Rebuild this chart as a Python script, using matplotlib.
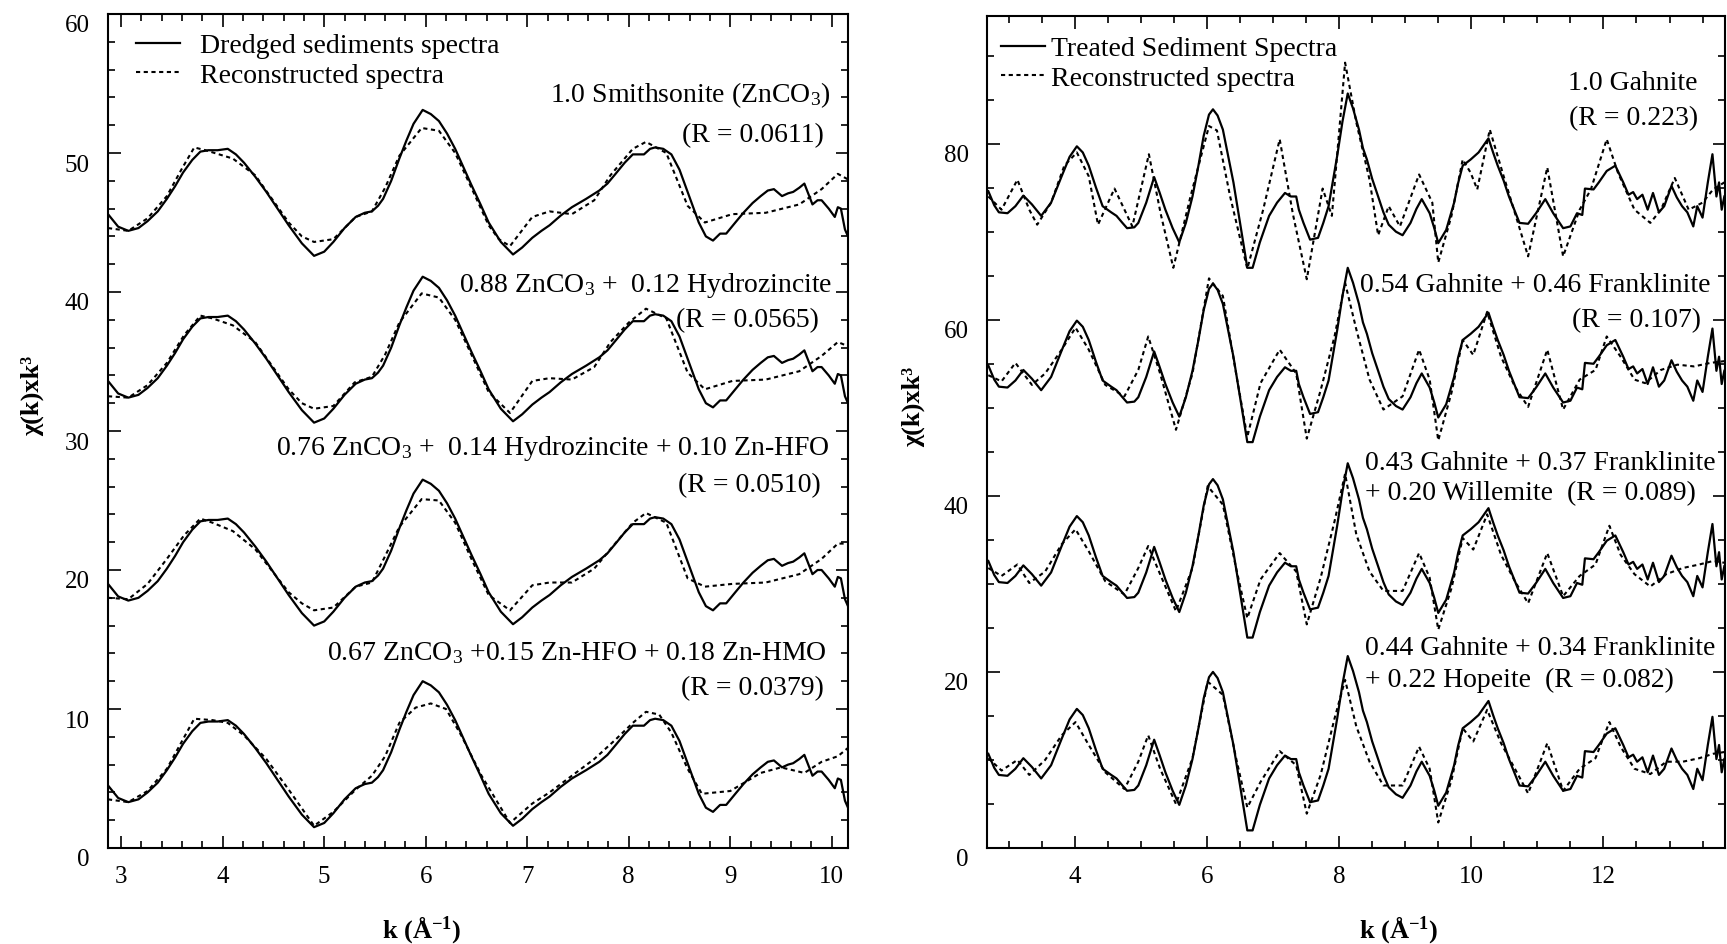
import matplotlib
matplotlib.use("Agg")
import matplotlib.pyplot as plt
from matplotlib.ticker import MultipleLocator
from matplotlib.transforms import ScaledTranslation
from matplotlib.lines import Line2D

plt.rcParams['font.family'] = ['Liberation Serif', 'DejaVu Serif']
plt.rcParams['mathtext.fontset'] = 'custom'
plt.rcParams['mathtext.rm'] = 'Liberation Serif'
plt.rcParams['mathtext.it'] = 'Liberation Serif:italic'
plt.rcParams['mathtext.bf'] = 'Liberation Serif:bold'

# ======================= DATA =======================
# ---- Left panel: dredged sediments (experimental trace, top copy) ----
dredged_k = [2.87, 2.97, 3.07, 3.17, 3.26, 3.36, 3.45, 3.53, 3.61, 3.70, 3.78, 3.86, 3.95,
             4.05, 4.13, 4.21, 4.32, 4.43, 4.54, 4.65, 4.78, 4.90, 5.00, 5.09, 5.20, 5.31,
             5.40, 5.47, 5.53, 5.58, 5.66, 5.74, 5.81, 5.88, 5.97, 6.05, 6.13, 6.21, 6.29,
             6.37, 6.45, 6.54, 6.62, 6.74, 6.86, 6.95, 7.05, 7.14, 7.22, 7.33, 7.44, 7.58,
             7.71, 7.79, 7.87, 7.96, 8.04, 8.10, 8.15, 8.21, 8.26, 8.34, 8.42, 8.50, 8.58,
             8.64, 8.69, 8.76, 8.83, 8.90, 8.96, 9.05, 9.13, 9.22, 9.30, 9.37, 9.43, 9.51,
             9.57, 9.62, 9.68, 9.73, 9.81, 9.86, 9.90, 9.97, 10.03, 10.06, 10.09, 10.13, 10.16]
dredged_chi = [45.6, 44.7, 44.4, 44.6, 45.1, 45.8, 46.7, 47.6, 48.6, 49.5, 50.1, 50.2, 50.2,
               50.3, 49.9, 49.3, 48.3, 47.2, 46.0, 44.8, 43.5, 42.6, 42.9, 43.6, 44.6, 45.4,
               45.7, 45.8, 46.2, 46.7, 48.0, 49.6, 50.9, 52.1, 53.1, 52.8, 52.3, 51.4, 50.3,
               49.0, 47.7, 46.3, 45.0, 43.6, 42.7, 43.2, 43.9, 44.4, 44.8, 45.5, 46.1, 46.7,
               47.3, 47.8, 48.5, 49.3, 49.9, 49.9, 49.9, 50.3, 50.4, 50.3, 49.9, 48.8, 47.2,
               46.0, 45.0, 44.0, 43.7, 44.2, 44.2, 45.0, 45.7, 46.4, 46.9, 47.3, 47.4, 46.9,
               47.1, 47.2, 47.5, 47.8, 46.3, 46.6, 46.6, 46.0, 45.4, 46.1, 46.0, 44.5, 44.0]
dredged_offsets = [0.0, -12.0, -26.6, -41.1]

# reconstructed spectra (left panel), top to bottom
dredged_fit1_k = [2.87, 3.07, 3.26, 3.45, 3.60, 3.72, 3.83, 4.10, 4.32, 4.65, 4.78, 4.90, 5.09,
                  5.31, 5.47, 5.60, 5.74, 5.96, 6.13, 6.29, 6.45, 6.62, 6.72, 6.83, 7.05, 7.22,
                  7.44, 7.66, 7.82, 8.04, 8.17, 8.37, 8.58, 8.75, 9.02, 9.35, 9.68, 9.90, 10.06, 10.16]
dredged_fit1_chi = [44.6, 44.4, 45.3, 46.9, 48.9, 50.4, 50.2, 49.6, 48.4, 45.0, 44.0, 43.6, 43.8,
                    45.4, 45.8, 47.5, 49.8, 51.8, 51.6, 50.0, 47.5, 44.8, 43.8, 43.3, 45.4, 45.8,
                    45.6, 46.6, 48.4, 50.3, 50.8, 50.0, 46.2, 45.0, 45.6, 45.7, 46.3, 47.4, 48.5, 48.1]
dredged_fit2_k = [2.87, 3.07, 3.26, 3.45, 3.62, 3.78, 3.90, 4.10, 4.32, 4.65, 4.78, 4.90, 5.09,
                  5.30, 5.47, 5.60, 5.74, 5.96, 6.13, 6.29, 6.45, 6.62, 6.83, 7.05, 7.22, 7.44,
                  7.66, 7.82, 8.00, 8.17, 8.37, 8.58, 8.75, 9.02, 9.35, 9.68, 9.90, 10.06, 10.16]
dredged_fit2_chi = [32.5, 32.4, 33.3, 34.9, 36.9, 38.3, 38.1, 37.6, 36.4, 33.0, 32.0, 31.6, 31.8,
                    33.5, 33.9, 35.5, 37.8, 39.9, 39.6, 38.0, 35.5, 32.8, 31.3, 33.6, 33.8, 33.7,
                    34.6, 36.4, 37.8, 38.8, 38.1, 34.2, 33.0, 33.6, 33.7, 34.3, 35.4, 36.4, 36.1]
dredged_fit3_k = [2.87, 3.07, 3.26, 3.45, 3.62, 3.78, 3.90, 4.10, 4.32, 4.65, 4.78, 4.90, 5.09,
                  5.31, 5.47, 5.60, 5.74, 5.96, 6.13, 6.29, 6.45, 6.62, 6.83, 7.05, 7.22, 7.44,
                  7.66, 7.82, 8.04, 8.17, 8.37, 8.58, 8.75, 9.02, 9.35, 9.68, 9.90, 10.06, 10.16]
dredged_fit3_chi = [18.0, 17.9, 19.0, 20.8, 22.5, 23.7, 23.4, 22.8, 21.5, 18.4, 17.6, 17.1, 17.3,
                    18.8, 19.1, 21.0, 23.1, 25.1, 25.0, 23.4, 20.8, 18.2, 17.1, 18.9, 19.1, 19.1,
                    20.1, 21.5, 23.4, 24.1, 23.4, 19.4, 18.8, 19.0, 19.1, 19.7, 20.8, 21.9, 21.9]
dredged_fit4_k = [2.87, 3.07, 3.26, 3.45, 3.72, 3.90, 4.05, 4.21, 4.43, 4.65, 4.90, 5.09, 5.31,
                  5.47, 5.60, 5.74, 5.90, 6.05, 6.20, 6.35, 6.55, 6.83, 7.05, 7.22, 7.44, 7.66,
                  7.87, 8.04, 8.17, 8.30, 8.42, 8.58, 8.72, 9.00, 9.30, 9.50, 9.73, 9.90, 10.06, 10.16]
dredged_fit4_chi = [3.5, 3.3, 4.1, 5.7, 9.3, 9.2, 9.0, 8.1, 6.4, 4.2, 1.6, 2.6, 4.2,
                    5.2, 6.6, 9.0, 10.1, 10.4, 10.0, 8.1, 5.2, 1.8, 3.2, 4.0, 5.2, 6.4,
                    7.8, 9.0, 9.8, 9.6, 8.3, 5.7, 3.9, 4.1, 5.4, 5.8, 5.4, 6.2, 6.6, 7.2]

left_fit_texts = ["1.0 Smithsonite (ZnCO$_3$)",
                  "0.88 ZnCO$_3$ +  0.12 Hydrozincite",
                  "0.76 ZnCO$_3$ +  0.14 Hydrozincite + 0.10 Zn-HFO",
                  "0.67 ZnCO$_3$ +0.15 Zn-HFO + 0.18 Zn-HMO"]
left_r_texts = ["(R = 0.0611)", "(R = 0.0565)", "(R = 0.0510)", "(R = 0.0379)"]

# ---- Right panel: treated sediment (experimental trace, top copy) ----
treated_k = [2.69, 2.78, 2.85, 2.98, 3.10, 3.22, 3.35, 3.49, 3.64, 3.80, 3.92, 4.03, 4.12,
             4.21, 4.32, 4.42, 4.55, 4.63, 4.72, 4.79, 4.90, 4.96, 5.08, 5.20, 5.28, 5.37,
             5.48, 5.58, 5.68, 5.78, 5.87, 5.95, 6.03, 6.09, 6.16, 6.24, 6.32, 6.40, 6.50,
             6.61, 6.69, 6.80, 6.94, 7.06, 7.18, 7.27, 7.35, 7.39, 7.46, 7.56, 7.68, 7.76,
             7.84, 7.97, 8.05, 8.13, 8.21, 8.30, 8.36, 8.42, 8.50, 8.59, 8.67, 8.75, 8.86,
             8.96, 9.08, 9.17, 9.25, 9.37, 9.44, 9.50, 9.62, 9.74, 9.80, 9.87, 9.99, 10.11,
             10.26, 10.33, 10.40, 10.49, 10.57, 10.65, 10.73, 10.86, 10.98, 11.12, 11.24,
             11.39, 11.50, 11.60, 11.68, 11.72, 11.85, 11.93, 12.05, 12.18, 12.30, 12.38,
             12.45, 12.51, 12.59, 12.67, 12.75, 12.84, 12.92, 13.03, 13.11, 13.19, 13.27,
             13.36, 13.42, 13.50, 13.58, 13.65, 13.71, 13.75, 13.79, 13.83]
treated_chi = [74.6, 73.0, 72.2, 72.1, 72.9, 74.1, 73.1, 71.8, 73.3, 76.3, 78.5, 79.7, 79.0,
               77.5, 75.0, 72.9, 72.2, 71.8, 71.0, 70.4, 70.5, 71.0, 73.3, 76.2, 74.5, 72.5,
               70.4, 68.8, 71.0, 74.0, 77.5, 80.9, 83.3, 83.9, 83.2, 81.6, 78.6, 75.6, 71.0,
               65.9, 65.9, 68.8, 71.8, 73.3, 74.4, 74.0, 74.0, 72.5, 71.0, 69.1, 69.3, 71.0,
               72.9, 78.6, 82.5, 85.7, 84.0, 81.6, 79.5, 78.2, 76.0, 74.0, 72.2, 70.8, 70.0,
               69.6, 71.0, 72.6, 73.7, 72.1, 70.4, 68.7, 70.2, 73.3, 75.5, 77.5, 78.2, 79.0,
               80.6, 79.0, 77.5, 75.8, 74.0, 72.5, 71.0, 70.9, 72.1, 73.7, 72.1,
               70.4, 70.6, 72.1, 71.9, 74.9, 74.8, 75.6, 76.9, 77.5, 75.6, 74.2,
               74.5, 73.7, 74.2, 72.5, 74.4, 72.2, 72.9, 75.2, 73.9, 72.9, 72.2,
               70.6, 72.9, 71.6, 75.6, 78.8, 74.0, 75.6, 72.5, 74.0]
treated_offsets = [0.0, -19.8, -42.0, -63.9]

treated_fit1_k = [2.69, 2.89, 3.13, 3.31, 3.43, 3.64, 3.84, 4.03, 4.21, 4.35, 4.60, 4.87, 5.12,
                  5.30, 5.49, 5.75, 6.03, 6.15, 6.35, 6.61, 6.85, 7.10, 7.30, 7.51, 7.75, 7.89,
                  8.09, 8.26, 8.46, 8.59, 8.75, 8.92, 9.21, 9.41, 9.50, 9.70, 9.87, 9.99, 10.09,
                  10.28, 10.49, 10.69, 10.86, 11.15, 11.39, 11.64, 11.81, 12.05, 12.22, 12.47,
                  12.71, 12.87, 13.08, 13.29, 13.50, 13.66, 13.83]
treated_fit1_chi = [74.0, 72.5, 75.9, 72.5, 70.8, 73.3, 77.5, 79.0, 76.3, 70.8, 74.9, 70.6, 78.8,
                    72.0, 65.9, 74.0, 82.0, 81.5, 74.0, 65.8, 72.5, 80.5, 72.0, 64.6, 74.9, 71.8,
                    89.2, 82.4, 75.9, 69.6, 72.9, 70.6, 76.5, 73.3, 66.5, 71.8, 78.2, 76.7, 74.8,
                    81.6, 76.3, 71.4, 67.2, 77.3, 67.2, 72.5, 74.8, 80.5, 76.7, 72.5,
                    71.0, 72.5, 76.1, 72.5, 73.3, 74.8, 75.6]
treated_fit2_k = [2.69, 2.89, 3.10, 3.35, 3.55, 3.80, 4.01, 4.21, 4.46, 4.75, 4.96, 5.11, 5.29,
                  5.53, 5.78, 6.03, 6.24, 6.44, 6.61, 6.81, 7.10, 7.35, 7.51, 7.72, 7.93, 8.09,
                  8.26, 8.46, 8.67, 8.96, 9.21, 9.37, 9.50, 9.70, 9.87, 10.03, 10.24, 10.45,
                  10.66, 10.86, 11.15, 11.39, 11.64, 11.88, 12.05, 12.26, 12.47, 12.63, 12.87,
                  13.12, 13.37, 13.62, 13.83]
treated_fit2_chi = [53.7, 53.0, 55.1, 52.6, 53.9, 56.6, 59.1, 56.6, 52.6, 51.3, 54.3, 58.1, 53.9,
                    47.5, 53.9, 64.7, 62.7, 53.9, 46.7, 52.8, 56.6, 53.9, 46.5, 52.0, 58.1, 64.2,
                    58.9, 53.2, 49.8, 51.3, 56.6, 53.2, 46.3, 51.7, 57.7, 56.0, 60.9, 55.8,
                    52.4, 50.1, 56.6, 49.8, 53.2, 54.3, 58.1, 55.8, 53.2, 52.8, 54.3,
                    54.9, 54.7, 55.1, 55.3]
treated_fit3_k = [2.69, 2.89, 3.13, 3.31, 3.55, 3.80, 4.01, 4.21, 4.46, 4.75, 4.96, 5.11, 5.29,
                  5.53, 5.78, 6.01, 6.24, 6.44, 6.61, 6.81, 7.10, 7.35, 7.51, 7.72, 7.93, 8.09,
                  8.26, 8.46, 8.67, 8.96, 9.21, 9.37, 9.50, 9.70, 9.87, 10.03, 10.24, 10.45,
                  10.66, 10.86, 11.15, 11.39, 11.64, 11.88, 12.09, 12.26, 12.47, 12.71, 12.95,
                  13.20, 13.45, 13.66, 13.83]
treated_fit3_chi = [31.8, 30.9, 32.2, 30.1, 31.4, 34.5, 36.2, 33.7, 30.3, 28.8, 31.8, 34.3, 31.1,
                    26.9, 31.8, 41.1, 39.0, 31.8, 26.1, 30.5, 33.5, 31.4, 25.4, 30.7, 37.1, 42.5,
                    35.6, 31.4, 29.2, 29.2, 33.5, 30.7, 24.8, 29.5, 35.2, 33.9, 37.9, 33.3,
                    30.3, 27.8, 33.5, 28.6, 30.9, 32.2, 36.6, 33.3, 31.1, 29.7, 31.1,
                    31.8, 32.2, 32.6, 32.4]
treated_fit4_k = [2.69, 2.89, 3.13, 3.31, 3.55, 3.80, 4.01, 4.21, 4.46, 4.75, 4.96, 5.11, 5.29,
                  5.53, 5.78, 6.01, 6.24, 6.44, 6.61, 6.81, 7.10, 7.35, 7.51, 7.72, 7.93, 8.09,
                  8.26, 8.46, 8.67, 8.96, 9.21, 9.37, 9.50, 9.70, 9.87, 10.03, 10.24, 10.45,
                  10.66, 10.86, 11.15, 11.39, 11.64, 11.88, 12.09, 12.26, 12.47, 12.71, 12.95,
                  13.20, 13.45, 13.66, 13.83]
treated_fit4_chi = [10.2, 8.8, 10.0, 8.3, 10.0, 12.8, 14.3, 11.7, 8.6, 6.7, 9.8, 12.8, 9.0,
                    5.0, 10.2, 18.9, 17.4, 10.2, 4.6, 7.5, 11.0, 9.4, 3.9, 8.3, 14.7, 19.1,
                    13.8, 9.8, 7.1, 7.1, 11.5, 9.0, 2.9, 7.7, 13.6, 12.1, 15.7, 11.9,
                    9.0, 6.2, 11.9, 6.5, 9.0, 10.2, 14.3, 11.5, 9.0, 8.4, 9.8,
                    9.8, 10.2, 10.7, 10.9]

right_fit_texts = ["1.0 Gahnite",
                   "0.54 Gahnite + 0.46 Franklinite",
                   "0.43 Gahnite + 0.37 Franklinite",
                   "0.44 Gahnite + 0.34 Franklinite"]
right_r_texts = ["(R = 0.223)", "(R = 0.107)",
                 "+ 0.20 Willemite  (R = 0.089)", "+ 0.22 Hopeite  (R = 0.082)"]

left_legend = ["Dredged sediments spectra", "Reconstructed spectra"]
right_legend = ["Treated Sediment Spectra", "Reconstructed spectra"]

# ======================= LAYOUT =======================
W, H = 1727, 945
LEFT_BOX = (108, 15, 848, 849)     # x0, ytop, x1, ybottom (pixels)
RIGHT_BOX = (987, 17, 1725, 849)

def axes_rect(box):
    x0, yt, x1, yb = box
    return [x0 / W, 1 - yb / H, (x1 - x0) / W, (yb - yt) / H]

def afrac(box, x, y):
    x0, yt, x1, yb = box
    return (x - x0) / (x1 - x0), (yb - y) / (yb - yt)

fig = plt.figure(figsize=(W / 100, H / 100), dpi=100)
axL = fig.add_axes(axes_rect(LEFT_BOX))
axR = fig.add_axes(axes_rect(RIGHT_BOX))

SOLID = dict(color='black', lw=1.6, ls='-')
DASH = dict(color='black', lw=1.5, ls=(0, (2.0, 1.7)))
TXT = 20

for ax in (axL, axR):
    ax.tick_params(which='both', direction='in', top=True, right=True,
                   labelsize=18, width=1.2)
    ax.tick_params(which='major', length=9)
    ax.tick_params(which='minor', length=5)
    ax.tick_params(axis='x', pad=12)
    ax.tick_params(axis='y', pad=13)
    for s in ax.spines.values():
        s.set_linewidth(1.5)

# ---- left panel ----
for off in dredged_offsets:
    axL.plot(dredged_k, [c + off for c in dredged_chi], **SOLID)
for kk, cc in [(dredged_fit1_k, dredged_fit1_chi), (dredged_fit2_k, dredged_fit2_chi),
               (dredged_fit3_k, dredged_fit3_chi), (dredged_fit4_k, dredged_fit4_chi)]:
    axL.plot(kk, cc, **DASH)
axL.set_xlim(2.87, 10.16)
axL.set_ylim(0, 60)
axL.xaxis.set_major_locator(MultipleLocator(1))
axL.xaxis.set_minor_locator(MultipleLocator(0.2))
axL.yaxis.set_major_locator(MultipleLocator(10))
axL.yaxis.set_minor_locator(MultipleLocator(2))

# ---- right panel ----
for off in treated_offsets:
    axR.plot(treated_k, [c + off for c in treated_chi], **SOLID)
for kk, cc in [(treated_fit1_k, treated_fit1_chi), (treated_fit2_k, treated_fit2_chi),
               (treated_fit3_k, treated_fit3_chi), (treated_fit4_k, treated_fit4_chi)]:
    axR.plot(kk, cc, **DASH)
axR.set_xlim(2.67, 13.84)
axR.set_ylim(0, 94.5)
axR.xaxis.set_major_locator(MultipleLocator(2))
axR.xaxis.set_minor_locator(MultipleLocator(0.5))
axR.yaxis.set_major_locator(MultipleLocator(20))
axR.yaxis.set_minor_locator(MultipleLocator(5))

# ---- legends ----
hL = [Line2D([], [], **SOLID), Line2D([], [], **DASH)]
lx, ly = afrac(LEFT_BOX, 136, 34)
axL.legend(hL, left_legend, loc='upper left', bbox_to_anchor=(lx, ly), frameon=False,
           fontsize=TXT, handlelength=1.6, handletextpad=0.7, borderpad=0,
           borderaxespad=0, labelspacing=0.15)
rx, ry = afrac(RIGHT_BOX, 1001, 37)
axR.legend(hL, right_legend, loc='upper left', bbox_to_anchor=(rx, ry), frameon=False,
           fontsize=TXT, handlelength=1.6, handletextpad=0.2, borderpad=0,
           borderaxespad=0, labelspacing=0.15)

# ---- annotations (pixel anchors: x, baseline y, alignment) ----
left_pos = [((830, 102), (824, 142)), ((832, 292), (819, 327)),
            ((830, 455), (821, 492)), ((827, 660), (824, 695))]
for (t1, t2), ((x1, y1), (x2, y2)) in zip(zip(left_fit_texts, left_r_texts), left_pos):
    axL.text(*afrac(LEFT_BOX, x1, y1), t1, transform=axL.transAxes, ha='right',
             va='baseline', fontsize=TXT)
    axL.text(*afrac(LEFT_BOX, x2, y2), t2, transform=axL.transAxes, ha='right',
             va='baseline', fontsize=TXT)

right_pos = [((1698, 90, 'right'), (1698, 125, 'right')),
             ((1711, 292, 'right'), (1701, 327, 'right')),
             ((1365, 470, 'left'), (1365, 500, 'left')),
             ((1365, 655, 'left'), (1365, 687, 'left'))]
for (t1, t2), ((x1, y1, a1), (x2, y2, a2)) in zip(zip(right_fit_texts, right_r_texts), right_pos):
    axR.text(*afrac(RIGHT_BOX, x1, y1), t1, transform=axR.transAxes, ha=a1,
             va='baseline', fontsize=TXT)
    axR.text(*afrac(RIGHT_BOX, x2, y2), t2, transform=axR.transAxes, ha=a2,
             va='baseline', fontsize=TXT)

# ---- axis labels ----
ylab = "χ(k)xk³"
xlab = r"k (Å$^{\mathbf{-1}}$)"
fig.text(32 / W, 1 - 396 / H, ylab, rotation=90, ha='center', va='center',
         fontsize=19, fontweight='bold')
fig.text(913 / W, 1 - 407 / H, ylab, rotation=90, ha='center', va='center',
         fontsize=19, fontweight='bold')
fig.text(422 / W, 1 - 930 / H, xlab, ha='center', va='center', fontsize=19,
         fontweight='bold')
fig.text(1399 / W, 1 - 930 / H, xlab, ha='center', va='center', fontsize=19,
         fontweight='bold')

# y tick labels sit slightly below their ticks in the original
fig.canvas.draw()
shift = ScaledTranslation(0, -9 / 100, fig.dpi_scale_trans)
for ax in (axL, axR):
    for t in ax.yaxis.get_major_ticks():
        t.label1.set_transform(t.label1.get_transform() + shift)

fig.savefig("out.png", dpi=100, facecolor='white')
